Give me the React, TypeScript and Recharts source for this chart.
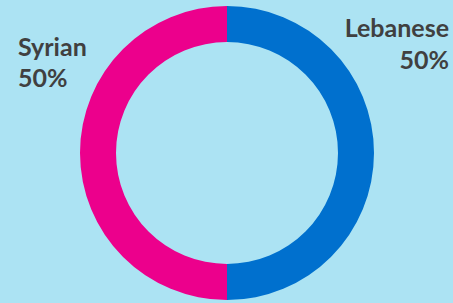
import React from "react";
import { PieChart, Pie, Cell } from "recharts";

const categories = ["Lebanese", "Syrian"];
const values = [50, 50];
const colors = ["#0070CE", "#EC008C"];

const data = categories.map((name, i) => ({ name, value: values[i] }));

const renderLabel = (props: any) => {
  const { name, percent } = props;
  const pct = `${Math.round(percent * 100)}%`;
  const style = { fontFamily: "Lato", fontWeight: 700, fontSize: 25, fill: "#404040" };
  if (name === "Lebanese") {
    return (
      <text textAnchor="end" style={style}>
        <tspan x={449} y={37}>{name}</tspan>
        <tspan x={449} y={69}>{pct}</tspan>
      </text>
    );
  }
  return (
    <text textAnchor="start" style={style}>
      <tspan x={18} y={56}>{name}</tspan>
      <tspan x={18} y={87}>{pct}</tspan>
    </text>
  );
};

export default function App() {
  return (
    <div style={{ position: "fixed", left: 0, top: 0, width: 453, height: 303, background: "#ACE3F3" }}>
      <PieChart width={453} height={303} margin={{ top: 0, right: 0, bottom: 0, left: 0 }}>
        <Pie
          data={data}
          dataKey="value"
          nameKey="name"
          cx={227}
          cy={153}
          innerRadius={111}
          outerRadius={147}
          startAngle={90}
          endAngle={-270}
          stroke="none"
          label={renderLabel}
          labelLine={false}
          isAnimationActive={false}
        >
          {data.map((d, i) => (
            <Cell key={d.name} fill={colors[i]} />
          ))}
        </Pie>
      </PieChart>
    </div>
  );
}
